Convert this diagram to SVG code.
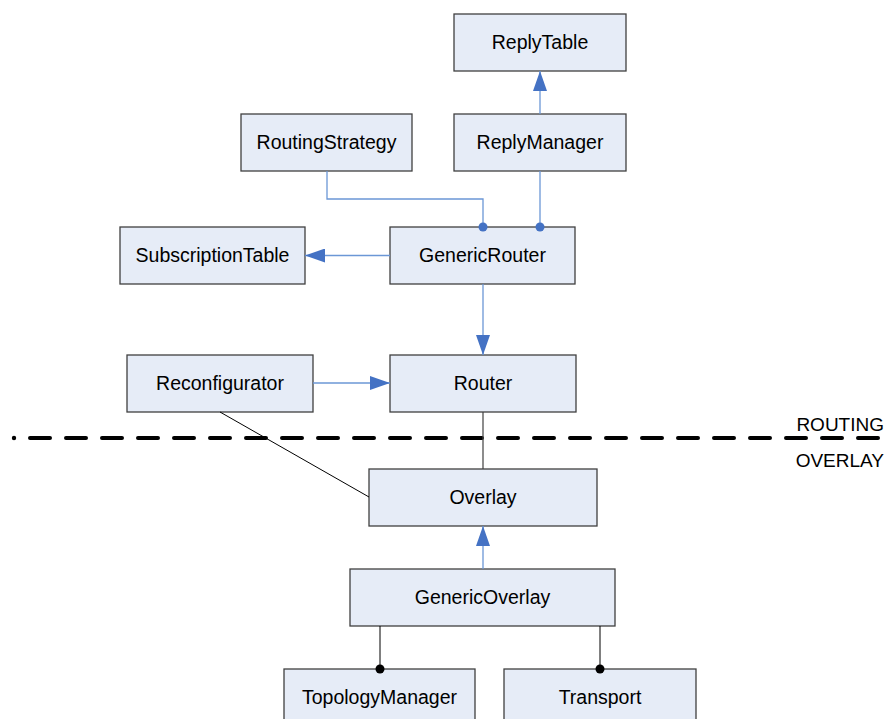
<svg xmlns="http://www.w3.org/2000/svg" width="887" height="719" viewBox="0 0 887 719">
<style>
.box rect{fill:#E6ECF7;stroke:#404040;stroke-width:1.3}
.box text{font-family:"Liberation Sans",Arial,sans-serif;font-size:19.5px;fill:#000;text-anchor:middle}
.blue{fill:none;stroke:#6B97D6;stroke-width:1.3}
.gray{fill:none;stroke:#404040;stroke-width:1.2}
.blk{fill:none;stroke:#000;stroke-width:1}
.lbl{font-family:"Liberation Sans",Arial,sans-serif;font-size:19px;fill:#000;text-anchor:end}
</style>
<defs>
<marker id="arr" markerUnits="userSpaceOnUse" markerWidth="20" markerHeight="14" refX="20" refY="7" orient="auto">
<path d="M0,0 L20,7 L0,14 z" fill="#4472C4"/>
</marker>
</defs>
<rect width="887" height="719" fill="#fff"/>
<g id="separator">
<circle cx="14" cy="438" r="2.2" fill="#000"/>
<line x1="30" y1="438" x2="887" y2="438" stroke="#000" stroke-width="4" stroke-linecap="round" stroke-dasharray="20 16"/>
<text class="lbl" x="884" y="431">ROUTING</text>
<text class="lbl" x="884" y="467">OVERLAY</text>
</g>
<g id="ReplyTable" class="box"><rect x="454" y="14" width="172" height="57"/><text x="540" y="48.5">ReplyTable</text></g>
<g id="ReplyManager" class="box"><rect x="454" y="114" width="172" height="57"/><text x="540" y="148.5">ReplyManager</text></g>
<g id="RoutingStrategy" class="box"><rect x="241" y="114" width="171" height="57"/><text x="326.5" y="148.5">RoutingStrategy</text></g>
<g id="GenericRouter" class="box"><rect x="390" y="227" width="185" height="57"/><text x="482.5" y="262">GenericRouter</text></g>
<g id="SubscriptionTable" class="box"><rect x="120" y="227" width="185" height="57"/><text x="212.5" y="262">SubscriptionTable</text></g>
<g id="Reconfigurator" class="box"><rect x="127" y="355" width="186" height="57"/><text x="220" y="390">Reconfigurator</text></g>
<g id="Router" class="box"><rect x="390" y="355" width="186" height="57"/><text x="483" y="390">Router</text></g>
<g id="Overlay" class="box"><rect x="369" y="469" width="228" height="57"/><text x="483" y="504">Overlay</text></g>
<g id="GenericOverlay" class="box"><rect x="350" y="569" width="265" height="57"/><text x="482.5" y="604">GenericOverlay</text></g>
<g id="TopologyManager" class="box"><rect x="284" y="669" width="191" height="57"/><text x="379.5" y="704">TopologyManager</text></g>
<g id="Transport" class="box"><rect x="504" y="669" width="192" height="57"/><text x="600" y="704">Transport</text></g>
<g id="connectors">
<path class="blue" d="M540 114 V71" marker-end="url(#arr)"/>
<path class="blue" d="M327 171 V199 H483 V227"/>
<circle cx="483" cy="227" r="4.5" fill="#4472C4"/>
<path class="blue" d="M540 171 V227"/>
<circle cx="540" cy="227" r="4.5" fill="#4472C4"/>
<path class="blue" d="M390 255.5 H305" marker-end="url(#arr)"/>
<path class="blue" d="M483 284 V355" marker-end="url(#arr)"/>
<path class="blue" d="M313 383 H390" marker-end="url(#arr)"/>
<path class="gray" d="M483 412 V469"/>
<path class="blk" d="M220 412 L369 497"/>
<path class="blue" d="M483 569 V526" marker-end="url(#arr)"/>
<path class="blk" d="M380 626 V669"/>
<circle cx="380" cy="669" r="4.5" fill="#000"/>
<path class="blk" d="M600 626 V669"/>
<circle cx="600" cy="669" r="4.5" fill="#000"/>
</g>
</svg>
